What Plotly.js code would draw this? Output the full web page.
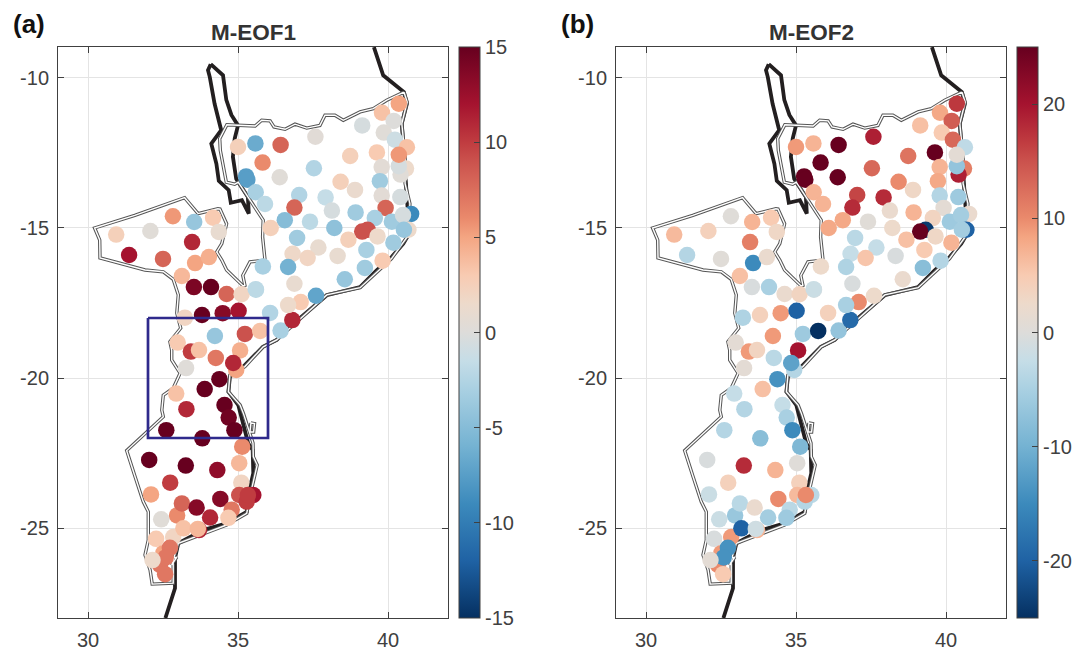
<!DOCTYPE html>
<html><head><meta charset="utf-8">
<script src="https://cdn.plot.ly/plotly-3.0.1.min.js"></script>
<style>html,body{margin:0;padding:0;background:#fff}#chart{width:1089px;height:652px}</style>
</head><body><div id="chart"></div>
<script>
const stationLon = [
 40.36,39.80,40.19,39.14,39.86,40.23,37.58,35.00,35.58,36.42,
 40.60,40.42,40.36,40.63,39.63,40.36,38.74,35.82,39.79,37.53,
 35.27,35.31,36.39,38.42,39.73,38.90,35.59,37.04,37.92,39.79,
 40.41,35.90,36.88,38.13,39.92,40.77,38.92,39.56,40.13,40.50,
 36.56,37.40,36.09,38.21,40.68,40.53,39.32,39.14,39.65,38.68,
 36.97,40.18,37.68,39.28,36.82,37.32,38.32,39.82,35.83,36.67,
 39.23,38.56,36.88,35.60,37.60,37.09,
 30.94,32.08,32.83,33.54,34.17,34.36,33.47,31.37,32.50,33.57,34.03,33.13,33.53,34.10,34.62,35.12,35.59,
 33.23,33.80,34.49,35.02,36.07,36.42,36.81,36.67,
 35.23,35.74,34.23,32.99,33.43,33.70,35.07,34.26,34.94,34.84,33.27,34.38,33.89,32.94,34.55,33.28,34.69,32.61,34.88,33.81,35.14,
 32.04,33.26,34.31,35.04,35.11,32.74,32.10,35.04,35.51,35.29,35.33,34.41,32.97,33.13,33.62,34.79,34.68,34.07,32.44,
 32.84,33.18,33.70,33.66,32.27,32.51,32.40,32.73,32.59,32.15,32.57];
const stationLat = [
 -10.86,-11.16,-11.43,-11.58,-11.82,-12.06,-11.96,-12.30,-12.18,-12.23,
 -13.02,-13.22,-12.94,-12.31,-12.48,-12.56,-12.60,-12.82,-12.97,-13.01,
 -13.28,-13.39,-13.31,-13.46,-13.44,-13.73,-13.81,-13.90,-13.98,-13.92,
 -13.97,-14.20,-14.32,-14.42,-14.33,-14.53,-14.48,-14.67,-14.79,-14.57,
 -14.74,-14.79,-15.00,-15.00,-15.06,-15.06,-15.06,-15.12,-15.28,-15.39,
 -15.33,-15.49,-15.65,-15.73,-15.86,-16.00,-15.93,-16.09,-16.28,-16.30,
 -16.33,-16.71,-16.86,-17.06,-17.26,-17.47,
 -15.22,-15.10,-14.61,-14.80,-14.66,-15.13,-15.47,-15.90,-16.03,-16.17,-15.97,-16.60,-16.97,-16.97,-17.20,-17.21,-17.04,
 -17.99,-17.90,-17.84,-17.76,-17.83,-18.42,-18.07,-17.57,
 -18.53,-18.43,-18.60,-18.82,-19.12,-19.07,-19.08,-19.33,-19.73,-19.50,-19.67,-20.04,-20.37,-20.52,-20.90,-21.04,-21.32,-21.74,-21.74,-22.01,-22.29,
 -22.73,-22.92,-23.07,-22.84,-23.49,-23.49,-23.88,-23.90,-23.90,-24.12,-23.90,-24.03,-24.58,-24.18,-24.32,-24.39,-24.66,-24.65,-24.71,
 -25.30,-25.01,-25.07,-25.03,-25.36,-25.84,-26.23,-25.66,-25.98,-26.07,-26.54];
const eof1 = [
 5,3.5,0,-0.5,0.3,-1,0.4,2.5,-6.5,8,
 1.5,0.3,-0.5,3.5,3,5.5,2.5,6,0.5,-2.5,
 -7.5,-7.5,0.3,2.5,-3.5,1.2,-3,-2.5,-1.5,0.5,
 -0.5,-2,8,-0.5,8,-9,-3.5,-3,-3.5,-0.5,
 -5,-2,2.5,-4.5,1.5,-4,9,9,1.5,2.5,
 -3.5,-3.5,1,-3,1.7,2,1,3,-3,-6,
 -3.5,-4,1,-2,-7,3,
 2.5,0.3,5.5,-4,3,1,11,12,8,5,4.5,4,14,15,8,2,-2,
 2,15,13.5,12,-2.5,-3,11,1.5,
 9,3.5,-4,3,10,3.5,4.5,7,5,11,0.2,15,15,3.5,15,11,14.5,15,15,15,6,
 15,15,13,4,2,10,5,9,12,10,10,13.5,6,8,13.5,7,3,11,0.3,
 2,3.5,11,4,3,5,7,7,7,1.5,7];
const eof2 = [
 17,8,14,6,5,13,19,9,7,25,
 11,19,-7,-3,25,1,12,25,7,13,
 25,25,25,10,8,3,7,16,18,-4,
 -6,7,18,2,1,2,7,3.5,-6,-5.5,
 8,0.5,8,2.5,-20,-5.5,-24,25,3,6,
 -3.5,7,-2.5,5,-2.5,5.5,-0.5,-4,2.5,-4.5,
 -8,2,-0.5,-1,2.5,10,
 6.5,4,0.3,7,5,3,11,-4,0.5,-15,2,6,-0.5,-5,2,3.5,-2,
 -4.5,4,9,-20,4,-7,-19,-5,
 -6,-25,9,1,9,3.5,20,-3.5,-4,-12,1,-14,6,-2.5,-2.5,-4,-5,-4,-15,-8,-9,
 -0.5,18,7,0.3,4,4,-2,6.5,-3.5,-4,10,10,-6.5,-3.5,2,-3.5,-6,-5.5,-2,
 9,-20,7,-1.5,-0.5,9,10,-14,-14,1,5];

const lakeLon = [34.09,34.50,34.61,34.78,35.00,34.89,34.83,34.94,35.33,35.36,35.13,34.76,34.69,34.36,34.28,34.11,34.44,34.22,34.06,34.00,34.09];
const lakeLat = [-9.54,-9.91,-10.73,-11.23,-11.58,-12.02,-12.63,-13.36,-13.97,-14.52,-14.07,-14.16,-13.74,-13.43,-12.86,-12.19,-11.74,-10.86,-9.97,-9.74,-9.54];
const coastLon = [39.53,39.84,40.53,40.63,40.46,40.53,40.62,40.67,40.68,40.51,40.12,39.62,39.07,37.96,36.73,36.29,35.83,35.18,34.73,34.68,35.01,35.18,35.34,35.49,35.51,35.33,35.29,34.62,33.84,33.01,32.90,32.90,32.62,32.58];
const coastLat = [-8.97,-9.91,-10.47,-10.86,-11.52,-12.63,-13.63,-14.57,-15.23,-15.52,-15.97,-16.41,-16.97,-17.24,-18.29,-18.73,-18.96,-19.62,-19.96,-20.46,-20.90,-21.62,-22.18,-22.40,-23.17,-23.96,-24.46,-24.84,-25.07,-25.51,-26.00,-27.01,-27.96,-28.00];
const borderLon = [40.53,39.96,39.51,39.07,38.51,38.23,37.90,37.73,37.29,36.90,36.57,36.20,36.07,35.79,35.57,34.63,34.39,34.41,34.61,34.89,35.01,35.84,35.82,35.90,35.40,35.16,35.23,35.17,34.62,34.46,34.29,34.46,34.62,34.40,34.33,33.67,33.22,31.56,30.22,30.39,30.40,31.90,32.51,32.84,33.01,32.96,33.09,32.73,32.79,32.79,33.07,32.84,32.51,32.46,32.51,31.29,31.57,31.84,32.01,32.01,31.90,32.07,32.14,32.84,32.84,32.96,32.79,33.01,34.62,35.29,35.46,35.64,35.51,35.50,35.18,35.07,34.68,34.73,35.23,35.84,36.29,36.73,37.96,39.07,39.62,40.12,40.68,40.73,40.57,40.57,40.46,40.64,40.53,null,35.43,35.55,35.52,35.40,35.43];
const borderLat = [-10.47,-10.74,-11.02,-11.13,-11.41,-11.24,-11.24,-11.58,-11.67,-11.54,-11.71,-11.63,-11.43,-11.41,-11.60,-11.56,-12.02,-12.41,-13.47,-13.54,-13.47,-14.74,-15.30,-16.07,-16.13,-16.58,-16.91,-16.93,-16.40,-16.07,-15.80,-15.52,-14.86,-14.37,-14.36,-14.52,-13.99,-14.58,-15.00,-15.40,-16.00,-16.40,-16.46,-16.71,-17.23,-17.84,-18.34,-18.79,-19.07,-19.40,-19.84,-20.34,-20.57,-21.07,-21.29,-22.42,-23.29,-24.12,-24.46,-25.40,-25.90,-26.40,-26.87,-26.84,-26.01,-25.97,-26.23,-25.51,-24.90,-24.51,-23.68,-22.90,-22.62,-22.17,-21.18,-20.90,-20.46,-19.90,-19.62,-18.96,-18.73,-18.34,-17.23,-16.99,-16.47,-16.02,-15.24,-14.19,-13.52,-12.63,-11.52,-10.80,-10.47,null,-21.50,-21.52,-21.80,-21.80,-21.50];
const boxLon = [32,36,36,32,32];
const boxLat = [-18,-18,-22,-22,-18];

const lonTicks = [30,35,40], lonLabels = ['30','35','40'];
const latTicks = [-10,-15,-20,-25], latLabels = ['-10','-15','-20','-25'];
const cbTicks1 = [-15,-10,-5,0,5,10,15], cbLabels1 = ['-15','-10','-5','0','5','10','15'];
const cbTicks2 = [-20,-10,0,10,20], cbLabels2 = ['-20','-10','0','10','20'];

const rdbu = [[0,'#053061'],[0.1,'#1f62a4'],[0.2,'#3c8abc'],[0.3,'#74b2d2'],[0.4,'#a9d0e2'],[0.45,'#c5dde7'],[0.5,'#dddcda'],[0.55,'#eddacb'],[0.6,'#f8cbb2'],[0.667,'#f4a582'],[0.7,'#ea8a6c'],[0.8,'#cb524d'],[0.833,'#c03c40'],[0.9,'#a5132f'],[1,'#67001f']];
const W = 1089, H = 652;
const fontFam = 'Arial, "Liberation Sans", sans-serif';
const tickCol = '#404040';

function panel(xa, ya, vals, cmax, cbX, cbT, cbL) {
  const line = (x, y, color, width) => ({type:'scatter', mode:'lines', x, y, xaxis:xa, yaxis:ya,
    line:{color, width}, hoverinfo:'skip', showlegend:false, connectgaps:false});
  return [
    line(lakeLon, lakeLat, '#231f20', 3.8),
    line(coastLon, coastLat, '#231f20', 3.8),
    line(borderLon, borderLat, '#555555', 3.4),
    line(borderLon, borderLat, '#ffffff', 1.4),
    {type:'scatter', mode:'markers', x:stationLon, y:stationLat, xaxis:xa, yaxis:ya, showlegend:false, hoverinfo:'skip',
     marker:{size:16.5, color:vals, colorscale:rdbu, cmin:-cmax, cmax:cmax, line:{width:0},
       colorbar:{x:cbX/W, xanchor:'left', xpad:0, ypad:0, y:1-(47+571/2)/H, yanchor:'middle', len:571/H, lenmode:'fraction',
         thickness:21, thicknessmode:'pixels', outlinecolor:tickCol, outlinewidth:1, ticks:'inside', ticklen:6, tickcolor:tickCol,
         tickmode:'array', tickvals:cbT, ticktext:cbL, tickprefix:'\u2009', tickfont:{family:fontFam, size:20, color:tickCol}}}}
  ];
}
const boxTrace = {type:'scatter', mode:'lines', x:boxLon, y:boxLat, xaxis:'x', yaxis:'y', showlegend:false, hoverinfo:'skip',
  line:{color:'#2f2a8c', width:2.7}};

const data = [...panel('x','y',eof1,15,459,cbTicks1,cbLabels1), boxTrace, ...panel('x2','y2',eof2,25,1017,cbTicks2,cbLabels2)];

const axisBase = {showgrid:true, gridcolor:'#e4e4e4', gridwidth:1, zeroline:false, showline:true, linecolor:tickCol, linewidth:1, mirror:'allticks',
  ticks:'inside', ticklen:6, tickcolor:tickCol, tickfont:{family:fontFam, size:20, color:tickCol}, tickmode:'array', fixedrange:true, ticklabelstandoff:4};
const yDom = [1-618/H, 1-47/H];
const xa = (dom) => Object.assign({}, axisBase, {domain:dom, range:[29,42], tickvals:lonTicks, ticktext:lonLabels});
const ya = (anchor) => Object.assign({}, axisBase, {domain:yDom, range:[-28,-8.967], tickvals:latTicks, ticktext:latLabels, anchor});
const note = (text, x, y, size, color) => ({text, xref:'paper', yref:'paper', x:x/W, y:1-y/H, xanchor:'center', yanchor:'middle', showarrow:false,
  font:{family:fontFam, size, color}});

const layout = {width:W, height:H, margin:{l:0,r:0,t:0,b:0}, paper_bgcolor:'#fff', plot_bgcolor:'#fff', showlegend:false,
  xaxis:Object.assign(xa([58/W,448/W]), {anchor:'y'}), yaxis:ya('x'),
  xaxis2:Object.assign(xa([616/W,1006/W]), {anchor:'y2'}), yaxis2:ya('x2'),
  annotations:[
    note('<b>M-EOF1</b>',253,32,22.5,'#333333'),
    note('<b>M-EOF2</b>',811,32,22.5,'#333333'),
    note('<b>(a)</b>',29,24,26,'#111111'),
    note('<b>(b)</b>',577,24,26,'#111111')
  ]};
Plotly.newPlot('chart', data, layout, {displayModeBar:false, staticPlot:true});
</script></body></html>
